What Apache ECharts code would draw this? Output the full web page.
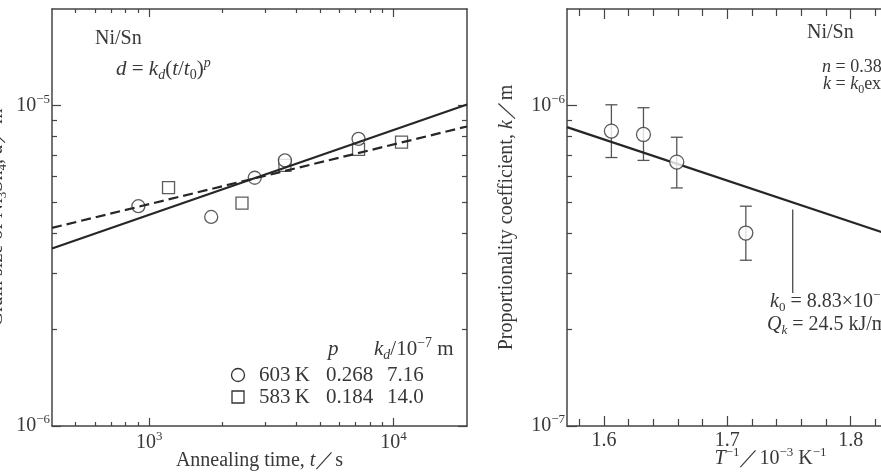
<!DOCTYPE html>
<html>
<head>
<meta charset="utf-8">
<script src="https://cdn.jsdelivr.net/npm/echarts@6/dist/echarts.min.js"></script>
<style>
  html, body { margin: 0; padding: 0; background: #fff; }
  #chart { width: 881px; height: 474px; }
</style>
</head>
<body>
<div id="chart"></div>
<script>
// ---------------------------------------------------------------------------
// Data. Left: Ni3Sn4 grain size vs annealing time (log-log).
// Right: proportionality coefficient k vs 1/T (log-linear).
// ---------------------------------------------------------------------------
const t603 = [903, 1794, 2704, 3594, 7194];
const d603 = [4.85e-6, 4.49e-6, 5.95e-6, 6.74e-6, 7.87e-6];
const t583 = [1200, 2398, 3594, 7194, 10790];
const d583 = [5.54e-6, 4.96e-6, 6.5e-6, 7.3e-6, 7.69e-6];
const fit603 = [[400, 3.58e-6], [20000, 1.007e-5]];
const fit583 = [[400, 4.15e-6], [20000, 8.6e-6]];

const invT = [1.606, 1.632, 1.659, 1.715];
const kVal = [8.32e-7, 8.12e-7, 6.66e-7, 4.0e-7];
const kHigh = [1.005e-6, 9.84e-7, 7.96e-7, 4.85e-7];
const kLow = [6.88e-7, 6.74e-7, 5.53e-7, 3.29e-7];
const kFit = [[1.57, 8.56e-7], [1.9, 3.23e-7]];
const leader = [[1.753, 4.74e-7], [1.753, 2.6e-7]];

// tick values
const timeMajor = [1e3, 1e4];
const timeMinor = [500, 600, 700, 800, 900, 2000, 3000, 4000, 5000, 6000, 7000, 8000, 9000];
const sizeMajor = [1e-6, 1e-5];
const sizeMinor = [2e-6, 3e-6, 4e-6, 5e-6, 6e-6, 7e-6, 8e-6, 9e-6];
const invTMajor = [1.6, 1.7, 1.8, 1.9];
const invTMinor = [1.58, 1.62, 1.64, 1.66, 1.68, 1.72, 1.74, 1.76, 1.78, 1.82, 1.84, 1.86, 1.88];
const kMajor = [1e-7, 1e-6];
const kMinor = [2e-7, 3e-7, 4e-7, 5e-7, 6e-7, 7e-7, 8e-7, 9e-7];

// ---------------------------------------------------------------------------
const SERIF = "'Liberation Serif', 'DejaVu Serif', serif";
const INK = "#383838";
const FRAME = "#444";
const LINE = "#262626";

// rich styles shared by labels, names and annotations
function richFor(size) {
  const base = { fontFamily: SERIF, color: INK, fontSize: size, lineHeight: size + 5 };
  const small = Math.round(size * 0.65);
  return {
    r: base,
    i: { ...base, fontStyle: "italic" },
    sup: { fontFamily: SERIF, color: INK, fontSize: small, lineHeight: small, verticalAlign: "top" },
    supi: { fontFamily: SERIF, color: INK, fontSize: small, lineHeight: small, verticalAlign: "top", fontStyle: "italic" },
    sub: { fontFamily: SERIF, color: INK, fontSize: small, lineHeight: small, verticalAlign: "bottom" },
    subi: { fontFamily: SERIF, color: INK, fontSize: small, lineHeight: small, verticalAlign: "bottom", fontStyle: "italic" },
  };
}

/** "10^e" label for log axes. */
function pow10Label(v) {
  const e = Math.round(Math.log10(v));
  return `{r|10}{sup|${e < 0 ? "\u2212" : ""}${Math.abs(e)}}`;
}

/** One axis of the boxed frame. Major and minor ticks live on separate axes. */
function frameAxis(o) {
  const axis = {
    type: o.type,
    gridIndex: o.grid,
    position: o.position,
    min: o.min,
    max: o.max,
    axisLine: { show: !!o.line, onZero: false, lineStyle: { color: FRAME, width: 1.5 } },
    axisTick: { show: true, inside: true, length: o.len, customValues: o.ticks, lineStyle: { color: FRAME, width: 1.2 } },
    axisLabel: { show: false },
    splitLine: { show: false },
    minorTick: { show: false },
  };
  if (o.labels) {
    axis.axisLabel = {
      show: true,
      customValues: o.labels,
      margin: o.margin,
      formatter: o.formatter,
      rich: richFor(20),
    };
  }
  if (o.name) {
    axis.name = o.name;
    axis.nameLocation = "middle";
    axis.nameGap = o.nameGap;
    axis.nameMoveOverlap = false;
    axis.nameTextStyle = { rich: richFor(20) };
  }
  return axis;
}

const GRID_L = { left: 52, top: 9, width: 415, height: 417, outerBoundsMode: "none" };
const GRID_R = { left: 567, top: 9, width: 407, height: 417, outerBoundsMode: "none" };

const xAxes = [
  // left panel (grid 0)
  frameAxis({ type: "log", grid: 0, position: "bottom", min: 400, max: 20000, line: true, ticks: timeMajor, len: 8,
    labels: timeMajor, margin: 4, formatter: pow10Label,
    name: "{r|Annealing time, }{i|t}{r|／s}", nameGap: 22 }),
  frameAxis({ type: "log", grid: 0, position: "bottom", min: 400, max: 20000, ticks: timeMinor, len: 4 }),
  frameAxis({ type: "log", grid: 0, position: "top", min: 400, max: 20000, line: true, ticks: timeMajor, len: 8 }),
  frameAxis({ type: "log", grid: 0, position: "top", min: 400, max: 20000, ticks: timeMinor, len: 4 }),
  // right panel (grid 1)
  frameAxis({ type: "value", grid: 1, position: "bottom", min: 1.57, max: 1.9, line: true, ticks: invTMajor, len: 10,
    labels: invTMajor, margin: 2, formatter: (v) => `{r|${v.toFixed(1)}}`,
    name: "{i|T}{sup|\u22121}{r|／10}{sup|\u22123}{r| K}{sup|\u22121}", nameGap: 20 }),
  frameAxis({ type: "value", grid: 1, position: "bottom", min: 1.57, max: 1.9, ticks: invTMinor, len: 7 }),
  frameAxis({ type: "value", grid: 1, position: "top", min: 1.57, max: 1.9, line: true, ticks: invTMajor, len: 10 }),
  frameAxis({ type: "value", grid: 1, position: "top", min: 1.57, max: 1.9, ticks: invTMinor, len: 7 }),
];

const yAxes = [
  frameAxis({ type: "log", grid: 0, position: "left", min: 1e-6, max: 2e-5, line: true, ticks: sizeMajor, len: 9,
    labels: sizeMajor, margin: 2, formatter: pow10Label,
    name: "{r|Grain size of Ni}{sub|3}{r|Sn}{sub|4}{r|, }{i|d}{r|／m}", nameGap: 43 }),
  frameAxis({ type: "log", grid: 0, position: "left", min: 1e-6, max: 2e-5, ticks: sizeMinor, len: 5 }),
  frameAxis({ type: "log", grid: 0, position: "right", min: 1e-6, max: 2e-5, line: true, ticks: sizeMajor, len: 9 }),
  frameAxis({ type: "log", grid: 0, position: "right", min: 1e-6, max: 2e-5, ticks: sizeMinor, len: 5 }),
  frameAxis({ type: "log", grid: 1, position: "left", min: 1e-7, max: 2e-6, line: true, ticks: kMajor, len: 10,
    labels: kMajor, margin: 2, formatter: pow10Label,
    name: "{r|Proportionality coefficient, }{i|k}{r|／m}", nameGap: 48 }),
  frameAxis({ type: "log", grid: 1, position: "left", min: 1e-7, max: 2e-6, ticks: kMinor, len: 5 }),
];

const zip = (xs, ys) => xs.map((x, i) => [x, ys[i]]);
const openMarker = { color: "#fff", borderColor: "#333", borderWidth: 1.3 };

const series = [
  { type: "line", xAxisIndex: 0, yAxisIndex: 0, data: fit603, showSymbol: false, silent: true,
    lineStyle: { color: LINE, width: 2.2 } },
  { type: "line", xAxisIndex: 0, yAxisIndex: 0, data: fit583, showSymbol: false, silent: true,
    lineStyle: { color: LINE, width: 2.2, type: [10, 5] } },
  { type: "scatter", xAxisIndex: 0, yAxisIndex: 0, data: zip(t583, d583), symbol: "rect", symbolSize: 12,
    itemStyle: openMarker },
  { type: "scatter", xAxisIndex: 0, yAxisIndex: 0, data: zip(t603, d603), symbol: "circle", symbolSize: 13,
    itemStyle: openMarker },

  { type: "line", xAxisIndex: 4, yAxisIndex: 4, data: kFit, showSymbol: false, silent: true,
    lineStyle: { color: LINE, width: 2.2 } },
  { type: "line", xAxisIndex: 4, yAxisIndex: 4, data: leader, showSymbol: false, silent: true,
    lineStyle: { color: "#555", width: 1.4 } },
  {
    type: "custom", xAxisIndex: 4, yAxisIndex: 4,
    data: invT.map((x, i) => [x, kLow[i], kHigh[i]]),
    encode: { x: 0, y: [1, 2] },
    renderItem(params, api) {
      const top = api.coord([api.value(0), api.value(2)]);
      const bot = api.coord([api.value(0), api.value(1)]);
      const w = 6;
      const st = { stroke: "#555", lineWidth: 1.3 };
      return {
        type: "group",
        children: [
          { type: "line", shape: { x1: top[0], y1: top[1], x2: bot[0], y2: bot[1] }, style: st },
          { type: "line", shape: { x1: top[0] - w, y1: top[1], x2: top[0] + w, y2: top[1] }, style: st },
          { type: "line", shape: { x1: bot[0] - w, y1: bot[1], x2: bot[0] + w, y2: bot[1] }, style: st },
        ],
      };
    },
  },
  { type: "scatter", xAxisIndex: 4, yAxisIndex: 4, data: zip(invT, kVal), symbol: "circle", symbolSize: 14,
    itemStyle: openMarker, z: 3 },
];

// annotations (text kept as text)
function note(x, y, text, size) {
  return {
    type: "text", x, y, z: 100,
    style: { text, rich: richFor(size), fontFamily: SERIF, fontSize: size, fill: INK, align: "left", verticalAlign: "middle" },
  };
}

const graphic = [
  note(95, 39, "{r|Ni/Sn}", 20),
  note(116, 69, "{i|d}{r| = }{i|k}{subi|d}{r|(}{i|t}{r|/}{i|t}{sub|0}{r|)}{supi|p}", 21),
  note(328, 349, "{i|p}", 21),
  note(374, 349, "{i|k}{subi|d}{r|/10}{sup|\u22127}{r| m}", 21),
  note(259, 375, "{r|603\u2009K}", 21),
  note(326, 375, "{r|0.268}", 21),
  note(387, 375, "{r|7.16}", 21),
  note(259, 397, "{r|583\u2009K}", 21),
  note(326, 397, "{r|0.184}", 21),
  note(387, 397, "{r|14.0}", 21),
  { type: "circle", z: 100, shape: { cx: 238, cy: 375, r: 6.5 }, style: { fill: "#fff", stroke: "#333", lineWidth: 1.3 } },
  { type: "rect", z: 100, shape: { x: 232, y: 391, width: 12, height: 12 }, style: { fill: "#fff", stroke: "#333", lineWidth: 1.3 } },

  note(807, 33, "{r|Ni/Sn}", 20),
  note(822, 67, "{i|n}{r| = 0.38}", 18),
  note(823, 84, "{i|k}{r| = }{i|k}{sub|0}{r|exp(\u2212}{i|Q}{subi|k}{r|/}{i|RT}{r|)}", 18),
  note(770, 302, "{i|k}{sub|0}{r| = 8.83\u00d710}{sup|\u22125}{r| m}", 20),
  note(767, 325, "{i|Q}{subi|k}{r| = 24.5 kJ/mol}", 20),
];

const chart = echarts.init(document.getElementById("chart"), null, { renderer: "canvas" });
chart.setOption({
  animation: false,
  backgroundColor: "#fff",
  grid: [GRID_L, GRID_R],
  xAxis: xAxes,
  yAxis: yAxes,
  series,
  graphic,
});
</script>
</body>
</html>
